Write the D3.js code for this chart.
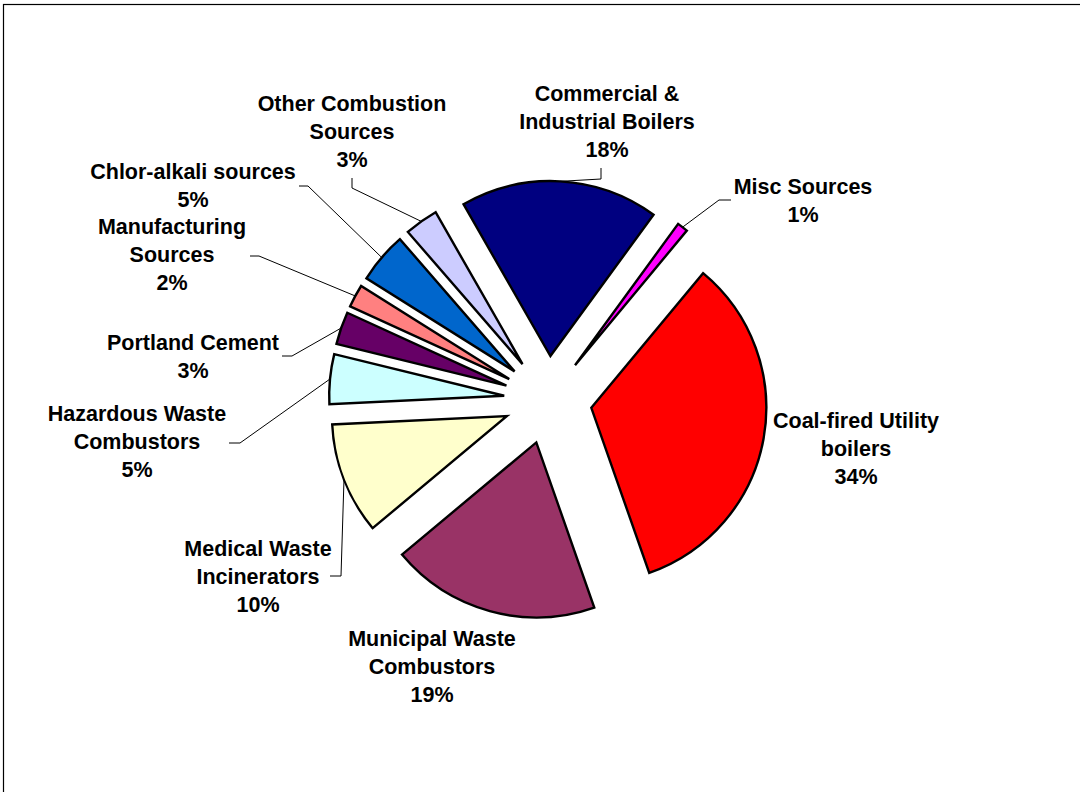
<!DOCTYPE html>
<html>
<head>
<meta charset="utf-8">
<script src="https://cdn.jsdelivr.net/npm/d3@7"></script>
<style>
  html, body { margin: 0; padding: 0; background: #fff; }
  svg { display: block; }
  text { font-family: "Liberation Sans", Arial, sans-serif; font-weight: bold; font-size: 21.5px; fill: #000; }
</style>
</head>
<body>
<svg id="chart" width="1080" height="792"></svg>
<script>
// ---- data ----
const categories = [
  "Misc Sources",
  "Coal-fired Utility boilers",
  "Municipal Waste Combustors",
  "Medical Waste Incinerators",
  "Hazardous Waste Combustors",
  "Portland Cement",
  "Manufacturing Sources",
  "Chlor-alkali sources",
  "Other Combustion Sources",
  "Commercial & Industrial Boilers"
];
const values = [1.0, 33.6, 19.3, 10.3, 4.6, 3.0, 2.1, 4.7, 3.1, 18.3];
const labelLines = [
  ["Misc Sources"],
  ["Coal-fired Utility", "boilers"],
  ["Municipal Waste", "Combustors"],
  ["Medical Waste", "Incinerators"],
  ["Hazardous Waste", "Combustors"],
  ["Portland Cement"],
  ["Manufacturing", "Sources"],
  ["Chlor-alkali sources"],
  ["Other Combustion", "Sources"],
  ["Commercial &", "Industrial Boilers"]
];
const colors = ["#FF00FF", "#FF0000", "#993366", "#FFFFCC", "#CCFFFF", "#660066", "#FF8080", "#0066CC", "#CCCCFF", "#000080"];

// ---- layout (not data) ----
const cx = 548, cy = 400, R = 175, explode = 44;
const startDeg = 36.1;
const lineH = 28;
// label anchor: x centre, first baseline; leader: elbow + end (null = no leader)
const labelLayout = [
  {x: 803, y: 194, elbow: [719, 200], end: [731, 200]},
  {x: 856, y: 428, elbow: null},
  {x: 432, y: 646, elbow: null},
  {x: 258, y: 556, elbow: [341, 576], end: [330, 576]},
  {x: 137, y: 421, elbow: [240, 443], end: [229, 443]},
  {x: 193, y: 350, elbow: [292, 356], end: [282, 356]},
  {x: 172, y: 234, elbow: [259, 256], end: [250, 256]},
  {x: 193, y: 179, elbow: [308, 186], end: [299, 186]},
  {x: 352, y: 111, elbow: [352, 188], end: [352, 178]},
  {x: 607, y: 101, elbow: [601, 179], end: [601, 168]}
];

const svg = d3.select("#chart");

// chart area border
svg.append("rect")
  .attr("x", 3.5).attr("y", 4.5)
  .attr("width", 1100).attr("height", 800)
  .attr("fill", "none").attr("stroke", "#000").attr("stroke-width", 1.2);

const total = d3.sum(values);
const start = startDeg * Math.PI / 180;
const pie = d3.pie().sort(null).startAngle(start).endAngle(start + 2 * Math.PI);
const arcs = pie(values);
const arc = d3.arc().innerRadius(0).outerRadius(R);
const edge = d3.arc().innerRadius(R).outerRadius(R);

const g = svg.append("g").attr("transform", `translate(${cx},${cy})`);

function offset(d) {
  const m = (d.startAngle + d.endAngle) / 2;
  return [explode * Math.sin(m), -explode * Math.cos(m)];
}

g.selectAll("path.slice").data(arcs).enter().append("path")
  .attr("class", "slice")
  .attr("d", arc)
  .attr("transform", d => { const o = offset(d); return `translate(${o[0]},${o[1]})`; })
  .attr("fill", (d, i) => colors[i])
  .attr("stroke", "#000")
  .attr("stroke-width", 2.4)
  .attr("stroke-linejoin", "miter");

// leader lines
arcs.forEach((d, i) => {
  const L = labelLayout[i];
  if (!L.elbow) return;
  const o = offset(d);
  const p = edge.centroid(d);
  const a = [cx + p[0] + o[0], cy + p[1] + o[1]];
  svg.append("path")
    .attr("d", d3.line()([a, L.elbow, L.end]))
    .attr("fill", "none")
    .attr("stroke", "#000")
    .attr("stroke-width", 1);
});

// labels
arcs.forEach((d, i) => {
  const L = labelLayout[i];
  const lines = labelLines[i].concat([Math.round(values[i] / total * 100) + "%"]);
  const t = svg.append("text").attr("text-anchor", "middle");
  lines.forEach((s, k) => {
    t.append("tspan").attr("x", L.x).attr("y", L.y + k * lineH).text(s);
  });
});
</script>
</body>
</html>
